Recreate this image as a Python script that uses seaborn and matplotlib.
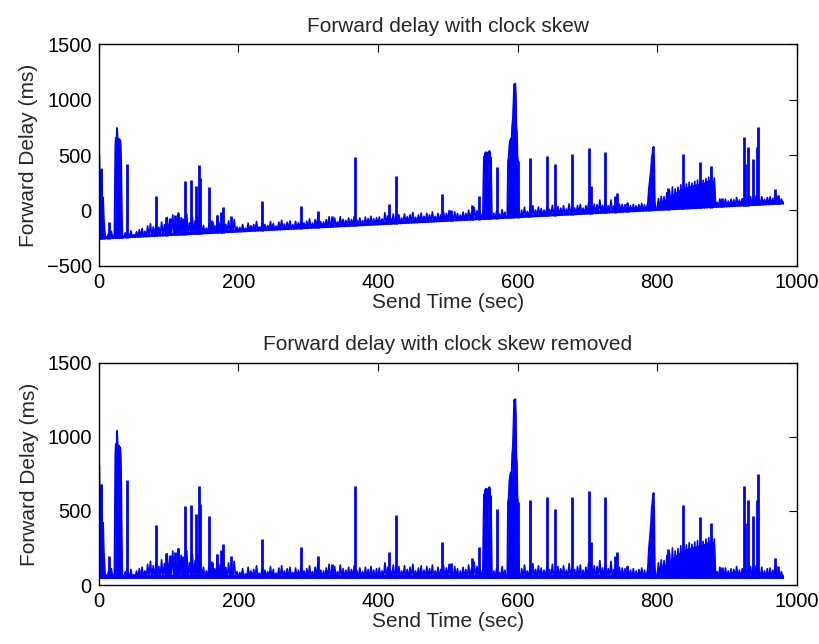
import numpy as np
import matplotlib
matplotlib.use("Agg")
import matplotlib.pyplot as plt
import seaborn as sns

# ---------------- data (ms, skew removed) ----------------
FLOOR_MS = 45                       # minimum forward delay
SKEW_OFFSET_MS = -305               # clock-skew offset at t=0 (upper panel)
SKEW_RATE_MS_PER_S = 0.325          # clock-skew drift rate (upper panel)

# background jitter: one peak value every 4 s
jitter_t = np.arange(0, 980, 4)
jitter_peak_ms = [
    60, 60, 70,
    95, 110, 75,
    60, 60, 60,
    90, 80, 105, 70, 95, 110,
    120, 95, 140, 160, 130,
    150, 125, 170, 145, 210,
    190, 230, 160, 245, 200,
    175, 230, 150, 210, 165,
    200, 150, 120, 95, 130,
    155, 110, 200, 140, 230,
    120, 150, 105, 160, 90,
    85, 110, 75, 120, 95, 105, 130, 80, 115, 100,
    90, 125, 105, 80, 115, 130, 95, 110, 120, 85,
    115, 100, 125, 95, 110, 130, 90, 120, 150, 100,
    95, 115, 140, 105, 125, 90, 135, 110, 100, 120,
    105, 130, 95, 115, 90, 120, 105, 125, 100, 110,
    115, 95, 150, 120, 100, 135, 110, 125, 95, 130,
    105, 120, 140, 95, 115, 130, 100, 125, 110, 135,
    95, 120, 105, 130, 115, 140, 100, 125, 110, 95,
    120, 105, 135, 110, 155, 125, 115, 100, 90, 60,
    60, 95, 110, 85, 125, 100, 60, 60, 60, 60,
    70, 110, 135, 95, 120, 145, 105, 130, 115, 100,
    120, 105, 140, 95, 125, 110, 130, 100, 145, 115,
    105, 125, 135, 100, 120, 150, 110, 130, 125, 165,
    115, 140, 110, 160, 105, 130, 120, 115, 110, 125,
    100, 110, 95, 105, 115, 100, 90, 110, 95, 60,
    150, 170, 165, 200, 215, 250, 230, 245, 265, 260,
    270, 285, 275, 290, 300, 285, 295, 310, 320, 330,
    310, 90, 120, 100, 115, 95, 110, 105, 125, 100,
    110, 120, 105, 125, 115, 130, 100, 120, 95, 110,
    115, 100, 130, 105, 90,
]

# solid queue band (ramp near 800-880 s)
band_t = [0, 798, 800, 814, 824, 838, 852.5, 867, 877.4, 882.2, 883.6, 981]
band_top_ms = [72, 72, 120, 140, 195, 240, 262, 280, 305, 280, 72, 72]

# isolated spikes
spike_t = [14.6, 41, 81.5, 96, 102, 109, 113, 119, 124, 132, 139, 143, 145.5,
           157.5, 162, 169, 175, 178.5, 190, 233.5, 289.5, 313.5, 334.5, 366.5,
           416, 425.8, 491.7, 504.6, 535, 545, 570, 600.8, 617.7, 642, 653.5,
           678.4, 702.7, 705, 725.7, 739.5, 743, 757, 815.3, 837.3, 862, 878,
           893, 924.2, 926.5, 930.4, 937.6, 942.5, 944.8, 969.6, 973]
spike_ms = [196, 708, 405, 218, 200, 225, 247, 196, 533, 540, 479, 670, 549,
            468, 157, 206, 236, 274, 196, 310, 254, 198, 141, 670,
            225, 475, 292, 146, 180, 258, 511, 560, 573, 591, 513,
            591, 636, 292, 595, 194, 220, 128, 243, 540, 461, 416,
            123, 668, 420, 573, 467, 573, 747, 184, 130]

# dense bursts
burst_segments = {
    "start": ([0, 0.5, 1.2, 2, 2.8, 3.5, 4.2, 5, 6, 7, 8, 9],
              [560, 810, 640, 380, 150, 520, 675, 300, 420, 230, 150, 50]),
    "t25": ([22.5, 23, 23.8, 24.5, 25.2, 26, 26.8, 27.5, 28.3, 29, 29.8, 30.5,
             31.2, 32, 32.8, 33.4, 34],
            [60, 380, 880, 950, 720, 1040, 960, 900, 820, 940, 600, 930, 890,
             700, 300, 120, 50]),
    "t555": ([550.5, 551.3, 552, 552.7, 553.4, 554.1, 554.8, 555.5, 556.2,
              556.9, 557.6, 558.3, 559, 559.7, 560.4, 561.1, 561.8, 562.5, 563.2],
             [60, 380, 610, 580, 640, 470, 650, 600, 440, 300, 620, 650, 560,
              660, 640, 520, 600, 300, 50]),
    "t595": ([585.5, 586.5, 587.5, 588.5, 589.5, 590.5, 591.5, 592.5, 593.5,
              594.5, 595.3, 596, 596.8, 597.5, 598.2, 599, 599.8, 600.5, 601.2, 602],
             [55, 560, 590, 700, 740, 760, 720, 880, 940, 1100, 1250, 1240, 1255,
              1150, 880, 820, 600, 560, 200, 50]),
    "t795": ([785.5, 787, 788.5, 790, 791.5, 792.5, 793.5, 794.3, 795, 795.8,
              796.6, 797.5],
             [60, 120, 250, 330, 420, 520, 560, 600, 620, 480, 130, 60]),
}

titles = ["Forward delay with clock skew", "Forward delay with clock skew removed"]
x_label = "Send Time (sec)"
y_label = "Forward Delay (ms)"
x_ticks = [0, 200, 400, 600, 800, 1000]
y_ticks_top = [-500, 0, 500, 1000, 1500]
y_ticks_bottom = [0, 500, 1000, 1500]

# ---------------- style ----------------
sns.set_theme(style="white")
plt.rcParams['font.family'] = ['Liberation Sans', 'DejaVu Sans']
plt.rcParams.update({
    'xtick.direction': 'in', 'ytick.direction': 'in',
    'xtick.top': True, 'ytick.right': True,
    'xtick.major.size': 6, 'ytick.major.size': 6,
    'xtick.major.width': 0.8, 'ytick.major.width': 0.8,
    'xtick.color': 'black', 'ytick.color': 'black',
    'axes.edgecolor': 'black', 'axes.linewidth': 1.0,
})

BLUE = (0, 0, 1)
fig = plt.figure(figsize=(8.2, 6.44), dpi=100)
ax_top = fig.add_axes([0.1205, 0.5874, 0.851, 0.3438])
ax_bot = fig.add_axes([0.1205, 0.0916, 0.851, 0.345])


def draw(ax, with_skew):
    def sk(t):
        t = np.asarray(t, dtype=float)
        return SKEW_OFFSET_MS + SKEW_RATE_MS_PER_S * t if with_skew else 0 * t

    bt = np.asarray(band_t, dtype=float)
    ax.fill_between(bt, FLOOR_MS + sk(bt), np.asarray(band_top_ms) + sk(bt),
                    color=BLUE, lw=0)

    jt = jitter_t.astype(float)
    xs = np.column_stack([jt, jt + 2]).ravel()
    ys = np.column_stack([np.full(len(jt), FLOOR_MS), jitter_peak_ms]).ravel()
    xs = np.append(xs, 981.0)
    ys = np.append(ys, FLOOR_MS)
    sns.lineplot(x=xs, y=ys + sk(xs), sort=False, estimator=None,
                 color=BLUE, lw=1.2, ax=ax)

    st = np.asarray(spike_t, dtype=float)
    ax.vlines(st, FLOOR_MS + sk(st), np.asarray(spike_ms) + sk(st),
              color=BLUE, lw=2.0)

    for tt, vv in burst_segments.values():
        tt = np.asarray(tt, dtype=float)
        vv = np.asarray(vv, dtype=float)
        ax.fill_between(tt, FLOOR_MS + sk(tt), vv + sk(tt), color=BLUE, lw=0)
        sns.lineplot(x=tt, y=vv + sk(tt), sort=False,
                     estimator=None, color=BLUE, lw=1.4, ax=ax)


draw(ax_top, True)
draw(ax_bot, False)

for ax, title, yt in [(ax_top, titles[0], y_ticks_top),
                      (ax_bot, titles[1], y_ticks_bottom)]:
    ax.set_xlim(0, 1000)
    ax.set_ylim(yt[0], yt[-1])
    ax.set_xticks(x_ticks)
    ax.set_yticks(yt)
    ax.set_yticklabels([str(v).replace('-', '\u2212') for v in yt])
    ax.tick_params(labelsize=14.5, pad=5)
    ax.set_title(title, fontsize=15, pad=9)
    ax.set_xlabel(x_label, fontsize=15, labelpad=1)
    ax.set_ylabel(y_label, fontsize=15, labelpad=6)
    for s in ax.spines.values():
        s.set_visible(True)
        s.set_color('black')

fig.savefig("out.png", dpi=100)
